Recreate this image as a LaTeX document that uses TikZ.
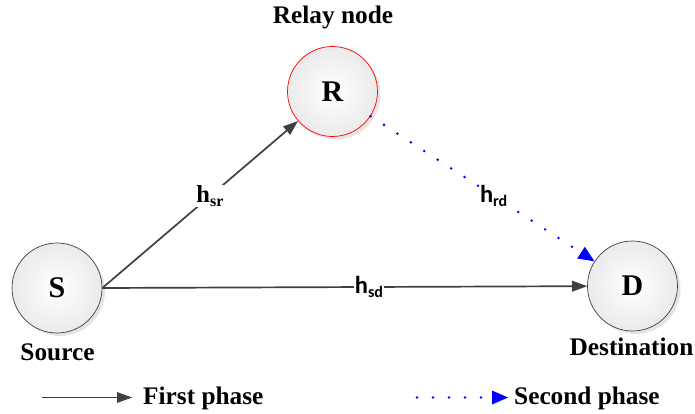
\documentclass[tikz,border=0pt]{standalone}
\usepackage{fontspec}
\setmainfont{Liberation Serif}
\newfontfamily\lblsans{Carlito}
\usetikzlibrary{arrows.meta,shadows}
\definecolor{edgegrey}{HTML}{404040}
\definecolor{dotblue}{HTML}{0000FF}
\newcommand{\chanh}[1]{\fontsize{24.5}{24.5}\selectfont\bfseries h\raisebox{-3.5pt}{\fontsize{16}{16}\selectfont #1}}
\tikzset{
  station/.style={circle, draw=edgegrey, line width=0.7pt, minimum size=90pt, inner sep=0pt,
    inner color=white, outer color=gray!16,
    drop shadow={shadow xshift=3pt, shadow yshift=-3pt, fill=gray!60, opacity=0.35},
    font=\fontsize{30}{30}\selectfont\bfseries},
  caption/.style={font=\fontsize{25.3}{26}\selectfont\bfseries, inner sep=0pt, anchor=base},
  firstlink/.style={draw=edgegrey, line width=1.7pt, -{Triangle[length=15pt,width=11pt,line width=0pt]}},
  secondlink/.style={draw=dotblue, line width=2.8pt, line cap=round, dash pattern=on 0pt off 16pt,
    -{Triangle[length=16pt,width=14pt,line width=0pt]}},
  chanlbl/.style={fill=white, inner sep=0.5pt},
}
\begin{document}
\begin{tikzpicture}[x=1pt,y=-1pt]
\useasboundingbox (0,0) rectangle (695,414);
% stations
\node[station] (S) at (57,288) {S};
\node[station, draw=red] (R) at (332.5,91.5) {R};
\node[station] (D) at (632.5,286) {D};
% captions
\node[caption] (relaycap) at (333,24) {Relay node};
\node[caption] (sourcecap) at (57.5,360) {Source};
\node[caption] (destcap) at (631.5,355) {Destination};
% links
\draw[firstlink] (S.east) -- (R) node[chanlbl, pos=0.55] (lsr) {\chanh{sr}};
\draw[firstlink] (S.east) -- (D) node[chanlbl, pos=0.55] (lsd) {\lblsans\chanh{sd}};
\draw[secondlink] (R) -- (D) node[chanlbl, pos=0.55] (lrd) {\lblsans\chanh{rd}};
% legend
\coordinate (l1a) at (42,397.5);
\coordinate (l1b) at (132,397.5);
\coordinate (l2a) at (417,397.5);
\coordinate (l2b) at (508,397.5);
\draw[firstlink] (l1a) -- (l1b);
\draw[secondlink] (l2a) -- (l2b);
\node[caption, anchor=base west] (firstcap) at (143,404) {First phase};
\node[caption, anchor=base west] (secondcap) at (514,404) {Second phase};
\end{tikzpicture}
\end{document}
